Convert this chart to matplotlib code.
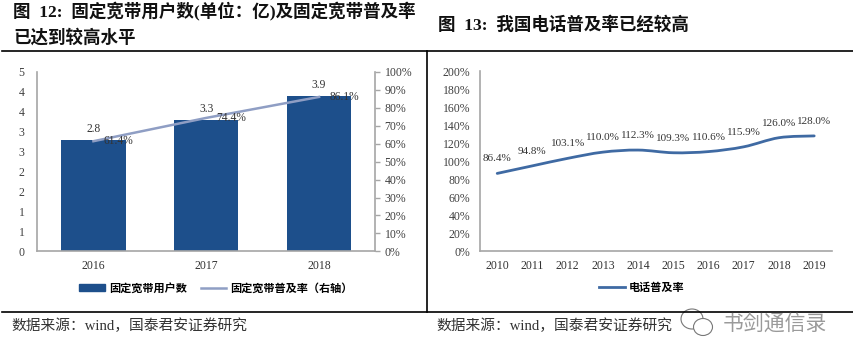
#-*- coding: utf-8 -*-
import numpy as np
import matplotlib
matplotlib.use('Agg')
import matplotlib.pyplot as plt
from matplotlib.lines import Line2D
from matplotlib.patches import Ellipse, PathPatch, Patch
from matplotlib.path import Path

plt.rcParams['font.family'] = ['Liberation Serif', 'Noto Sans CJK SC']

W, H = 854, 361

# 图12
years1 = ['2016', '2017', '2018']
users = [2.8, 3.3, 3.9]
rate1 = [61.4, 74.4, 86.1]
left_ticks = [0, 0.5, 1, 1.5, 2, 2.5, 3, 3.5, 4, 4.5]
left_labels = ['0', '1', '1', '2', '2', '3', '3', '4', '4', '5']
right_ticks = [0, 10, 20, 30, 40, 50, 60, 70, 80, 90, 100]

# 图13
years2 = ['2010', '2011', '2012', '2013', '2014', '2015', '2016', '2017', '2018', '2019']
rate2 = [86.4, 94.8, 103.1, 110.0, 112.3, 109.3, 110.6, 115.9, 126.0, 128.0]
ticks2 = [0, 20, 40, 60, 80, 100, 120, 140, 160, 180, 200]

BAR = '#1d4f8b'
LINE1 = '#8f9ec4'
LINE2 = '#3f6aa3'
GRAY = '#a6a6a6'
TXT = '#333333'
CJK = ['Noto Sans CJK SC']


def add_axes(fig, x0, y0, x1, y1):
    # 像素坐标, y向下
    return fig.add_axes([x0 / W, 1 - y1 / H, (x1 - x0) / W, (y1 - y0) / H])


def smooth_path(xs, ys):
    # 平滑线, 和Excel的平滑折线差不多
    n = len(xs)
    verts = [(xs[0], ys[0])]
    codes = [Path.MOVETO]
    for i in range(n - 1):
        p0 = max(i - 1, 0)
        p3 = min(i + 2, n - 1)
        c1 = (xs[i] + (xs[i + 1] - xs[p0]) / 6, ys[i] + (ys[i + 1] - ys[p0]) / 6)
        c2 = (xs[i + 1] - (xs[p3] - xs[i]) / 6, ys[i + 1] - (ys[p3] - ys[i]) / 6)
        verts += [c1, c2, (xs[i + 1], ys[i + 1])]
        codes += [Path.CURVE4] * 3
    return Path(verts, codes)


fig = plt.figure(figsize=(W / 100, H / 100), dpi=100)

# 标题
fig.text(13 / W, 1 - 12 / H, '图  12:  固定宽带用户数(单位：亿)及固定宽带普及率', fontsize=12.6,
         fontweight='bold', color='#111111', va='center')
fig.text(13 / W, 1 - 38 / H, '已达到较高水平', fontsize=12.6, fontweight='bold', color='#111111', va='center')
fig.text(438 / W, 1 - 25 / H, '图  13:  我国电话普及率已经较高', fontsize=12.6,
         fontweight='bold', color='#111111', va='center')

# 框线
fig.add_artist(Line2D([2 / W, 1], [1 - 50.5 / H] * 2, color='black', lw=1.2))
fig.add_artist(Line2D([2 / W, 1], [1 - 311.5 / H] * 2, color='black', lw=1.2))
fig.add_artist(Line2D([427.5 / W] * 2, [1 - 50.5 / H, 1 - 311.5 / H], color='black', lw=1.2))

# 左图
ax = add_axes(fig, 37, 72, 375.5, 251.3)
x = np.arange(len(years1))
rects = ax.bar(x, users, width=0.57, color=BAR)
ax.set_xlim(-0.5, 2.5)
ax.set_ylim(0, 4.5)
ax.set_yticks(left_ticks)
ax.set_yticklabels(left_labels)
ax.set_xticks(x)
ax.set_xticklabels(years1)
ax.tick_params(axis='y', length=0, labelsize=8.5, labelcolor='#404040', pad=9)
ax.tick_params(axis='x', length=0, labelsize=8.5, labelcolor=TXT, pad=6.5)
for s in ['top', 'right']:
    ax.spines[s].set_visible(False)
for s in ['left', 'bottom']:
    ax.spines[s].set_color(GRAY)
    ax.spines[s].set_linewidth(1.2)
for i in range(len(users)):
    ax.annotate('%.1f' % users[i], (x[i], users[i]), xytext=(0, 8), textcoords='offset points',
                ha='center', va='center', fontsize=8.3, color=TXT)

ax2 = ax.twinx()
ax2.plot(x, rate1, color=LINE1, lw=1.8)
ax2.set_ylim(0, 100)
ax2.set_yticks(right_ticks)
ax2.set_yticklabels(['%d%%' % t for t in right_ticks])
ax2.tick_params(axis='y', length=3.5, width=1, color=GRAY, labelsize=8.5, labelcolor='#404040', pad=3)
for s in ['top', 'left', 'bottom']:
    ax2.spines[s].set_visible(False)
ax2.spines['right'].set_color(GRAY)
ax2.spines['right'].set_linewidth(1.2)
for i in range(len(rate1)):
    ax2.annotate('%.1f%%' % rate1[i], (x[i], rate1[i]), xytext=(18, 0), textcoords='offset points',
                 ha='center', va='center', fontsize=8.3, color=TXT)

handles = [Patch(color=BAR, label='固定宽带用户数'), Line2D([], [], color=LINE1, lw=1.8, label='固定宽带普及率（右轴）')]
fig.legend(handles=handles, loc='center', bbox_to_anchor=(216 / W, 1 - 288 / H), ncol=2, frameon=False,
           handlelength=2.3, handleheight=0.5, handletextpad=0.35, columnspacing=1.25,
           prop={'family': CJK, 'size': 8, 'weight': 'bold'})

# 右图
bx = add_axes(fig, 479.6, 71, 831.8, 251.3)
x2 = np.arange(len(years2))
bx.add_patch(PathPatch(smooth_path(x2, rate2), fc='none', ec=LINE2, lw=2, capstyle='round'))
bx.set_xlim(-0.5, 9.5)
bx.set_ylim(0, 200)
bx.set_yticks(ticks2)
bx.set_yticklabels(['%d%%' % t for t in ticks2])
bx.set_xticks(x2)
bx.set_xticklabels(years2)
bx.tick_params(axis='y', length=0, labelsize=8.5, labelcolor='#404040', pad=6.5)
bx.tick_params(axis='x', length=0, labelsize=8.5, labelcolor=TXT, pad=6)
for s in ['top', 'right']:
    bx.spines[s].set_visible(False)
for s in ['left', 'bottom']:
    bx.spines[s].set_color(GRAY)
    bx.spines[s].set_linewidth(1.2)
for i in range(len(rate2)):
    bx.annotate('%.1f%%' % rate2[i], (x2[i], rate2[i]), xytext=(0, 10.5), textcoords='offset points',
                ha='center', va='center', fontsize=8, color=TXT)

fig.legend(handles=[Line2D([], [], color=LINE2, lw=2, label='电话普及率')], loc='center',
           bbox_to_anchor=(642 / W, 1 - 287 / H), frameon=False, handlelength=2.3, handletextpad=0.35,
           prop={'family': CJK, 'size': 8, 'weight': 'bold'})

# 数据来源
fig.text(11 / W, 1 - 326 / H, '数据来源：wind，国泰君安证券研究', fontsize=10.6, color=TXT, va='center')
fig.text(436 / W, 1 - 326 / H, '数据来源：wind，国泰君安证券研究', fontsize=10.6, color=TXT, va='center')

# 水印
fig.text(723 / W, 1 - 324 / H, '书剑通信录', fontsize=15, color='#9a9a9a', va='center', family=CJK)
for cx, cy, ew, eh in [(692, 319, 22, 20), (703, 327, 19, 17)]:
    fig.add_artist(Ellipse((cx / W, 1 - cy / H), ew / W, eh / H, fc='white', ec='#777777', lw=0.8,
                           transform=fig.transFigure))

fig.savefig('out.png', dpi=100)
